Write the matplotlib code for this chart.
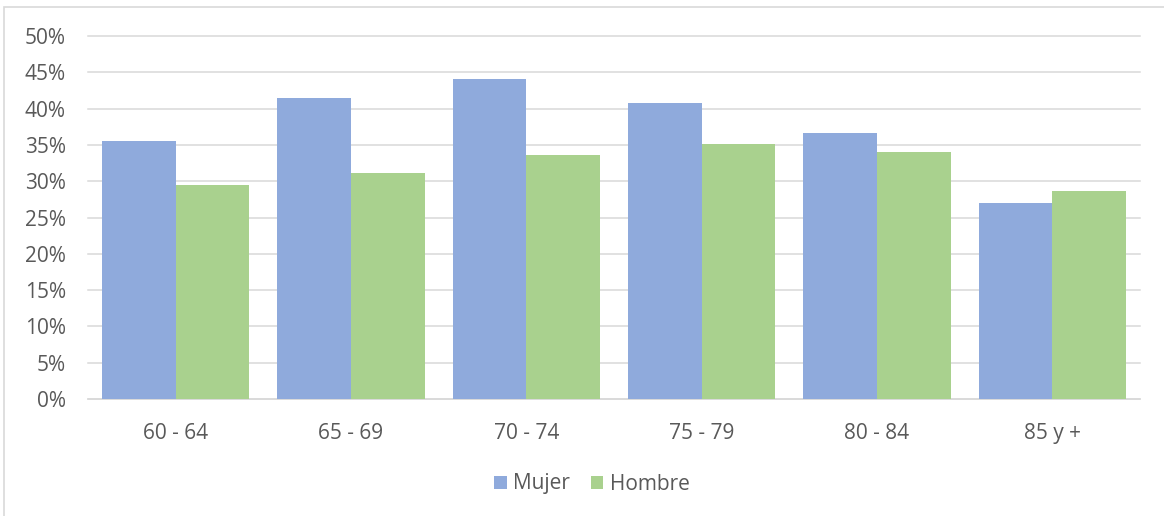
import numpy as np
import matplotlib
matplotlib.use("Agg")
import matplotlib.pyplot as plt
from matplotlib.patches import Rectangle

# data
grupos = ['60 - 64', '65 - 69', '70 - 74', '75 - 79', '80 - 84', '85 y +']
mujer = [35.5, 41.4, 44.1, 40.8, 36.6, 27.0]
hombre = [29.5, 31.1, 33.6, 35.1, 34.0, 28.6]
series = ['Mujer', 'Hombre']
colores = ['#8FAADC', '#A9D18E']

plt.rcParams['font.family'] = ['Open Sans', 'DejaVu Sans']
txt = '#595959'

fig = plt.figure(figsize=(11.64, 5.16), dpi=100)
ax = fig.add_axes([88 / 1164, 1 - 399 / 516, (1140 - 88) / 1164, (399 - 36) / 516])

# outer chart frame (partly cut in the reference)
fig.patches.append(Rectangle((4 / 1164, -0.1), 1.2, 1 - 7 / 516 + 0.1, transform=fig.transFigure,
                             fill=False, edgecolor='#d9d9d9', linewidth=1.2))

ind = np.arange(len(grupos))
width = 0.42
b1 = ax.bar(ind - width / 2, mujer, width, color=colores[0], zorder=3)
b2 = ax.bar(ind + width / 2, hombre, width, color=colores[1], zorder=3)

ax.set_xlim(-0.5, len(grupos) - 0.5)
ax.set_ylim(0, 50)
ax.set_yticks(np.arange(0, 51, 5))
ax.set_yticklabels([str(v) + '%' for v in range(0, 51, 5)])
ax.set_xticks(ind)
ax.set_xticklabels(grupos)
ax.grid(axis='y', color='#d9d9d9', linewidth=1.1, zorder=0)
for gl in ax.get_ygridlines():
    gl.set_clip_on(False)
ax.tick_params(length=0, labelsize=15, colors=txt)
ax.tick_params(axis='y', pad=16)
ax.tick_params(axis='x', pad=17)
for s in ['top', 'right', 'left']:
    ax.spines[s].set_visible(False)
ax.spines['bottom'].set_color('#d9d9d9')
ax.spines['bottom'].set_linewidth(1.1)

fig.legend([b1, b2], series, loc='center', bbox_to_anchor=(592 / 1164, 1 - 484 / 516),
           ncol=2, frameon=False, fontsize=15, labelcolor=txt,
           handlelength=0.6, handleheight=0.6, handletextpad=0.3, columnspacing=1.0)

plt.savefig('out.png', dpi=100)
